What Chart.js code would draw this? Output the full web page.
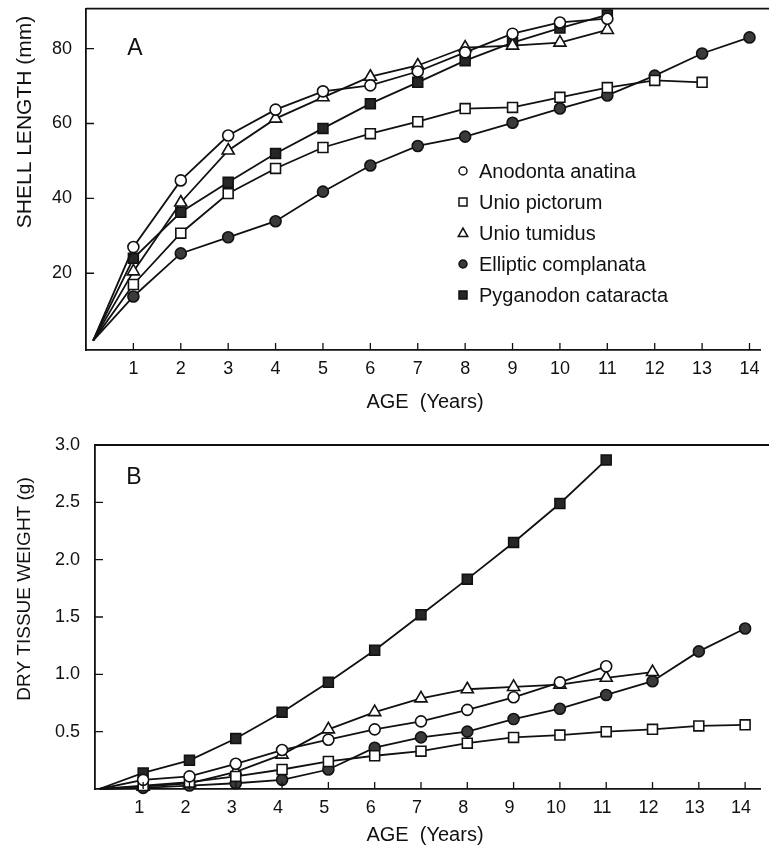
<!DOCTYPE html>
<html><head><meta charset="utf-8">
<script src="https://cdn.jsdelivr.net/npm/chart.js@4.4.1/dist/chart.umd.min.js"></script>
<style>
html,body{margin:0;padding:0;background:#fff;overflow:hidden}
#wa{position:absolute;left:0;top:0;width:769px;height:420px}
#wb{position:absolute;left:0;top:420px;width:769px;height:427px}
</style></head><body>
<div id="wa"><canvas id="ca" width="769" height="420"></canvas></div>
<div id="wb"><canvas id="cb" width="769" height="427"></canvas></div>
<script>
// ---------- data ----------
const seriesNames = ['Anodonta anatina','Unio pictorum','Unio tumidus','Elliptic complanata','Pyganodon cataracta'];
const agesA = [0.15,1,2,3,4,5,6,7,8,9,10,11,12,13,14];
const agesB = [0.05,1,2,3,4,5,6,7,8,9,10,11,12,13,14];
const xTicks = [1,2,3,4,5,6,7,8,9,10,11,12,13,14];
const yTicksA = [20,40,60,80];
const yTicksB = [0.5,1.0,1.5,2.0,2.5,3.0];

// Panel A: shell length (mm)
const anodontaLength   = [2,27,44.8,56.8,63.7,68.6,70.2,73.9,79,84,87,88];
const pictorumLength   = [2,17,30.7,41.3,48,53.6,57.3,60.5,64,64.3,67,69.6,71.5,71];
const tumidusLength    = [2,20.5,38.9,52.8,61.3,67,72.5,75.5,80.3,80.8,81.6,85];
const complanataLength = [2,13.8,25.3,29.6,33.9,41.8,48.8,54,56.5,60.2,64,67.5,72.8,78.7,83];
const cataractaLength  = [2,24,36.3,44.3,52,58.7,65.3,71,76.8,81.6,85.5,89];

// Panel B: dry tissue weight (g)
const anodontaWeight   = [0,0.08,0.11,0.22,0.34,0.43,0.52,0.59,0.69,0.80,0.93,1.07];
const pictorumWeight   = [0,0.03,0.06,0.11,0.17,0.24,0.29,0.33,0.40,0.45,0.47,0.50,0.52,0.55,0.56];
const tumidusWeight    = [0,0.02,0.05,0.15,0.30,0.52,0.67,0.79,0.87,0.89,0.91,0.97,1.02];
const complanataWeight = [0,0.01,0.03,0.05,0.08,0.17,0.36,0.45,0.50,0.61,0.70,0.82,0.94,1.20,1.40];
const cataractaWeight  = [0,0.14,0.25,0.44,0.67,0.93,1.21,1.52,1.83,2.15,2.49,2.87];

// ---------- styling ----------
const FONT = '"Liberation Sans", Arial, Helvetica, sans-serif';
const INK = '#111';
const markerStyles = [
  {style:'circle',   fill:'#ffffff', r:5.5},
  {style:'rect',     fill:'#ffffff', r:7},
  {style:'triangle', fill:'#ffffff', r:7},
  {style:'circle',   fill:'#3a3a3a', r:5.5},
  {style:'rect',     fill:'#262626', r:7}
];

function makeSets(ages, seriesValues){
  return seriesValues.map((vals,i)=>{
    const m = markerStyles[i];
    return {
      label: seriesNames[i],
      data: vals.map((v,j)=>({x:ages[j], y:v})),
      borderColor: INK,
      borderWidth: 1.8,
      tension: 0,
      pointStyle: m.style,
      pointBackgroundColor: m.fill,
      pointBorderColor: INK,
      pointBorderWidth: 1.6,
      pointRadius: c => c.dataIndex === 0 ? 0 : m.r,
      pointHoverRadius: c => c.dataIndex === 0 ? 0 : m.r,
      clip: 10
    };
  });
}

function drawMarker(ctx, style, fill, x, y, r){
  ctx.save();
  ctx.fillStyle = fill; ctx.strokeStyle = INK; ctx.lineWidth = 1.5;
  ctx.beginPath();
  if (style==='circle'){ ctx.arc(x,y,r,0,Math.PI*2); }
  else if (style==='rect'){ ctx.rect(x-r,y-r,2*r,2*r); }
  else { ctx.moveTo(x,y-r*1.1); ctx.lineTo(x+r*1.05,y+r*0.8); ctx.lineTo(x-r*1.05,y+r*0.8); ctx.closePath(); }
  ctx.fill(); ctx.stroke();
  ctx.restore();
}

const decor = {
  id:'decor',
  afterDraw(chart, args, o){
    const {ctx, chartArea:a} = chart;
    const xs = chart.scales.x, ys = chart.scales.y;
    ctx.save();
    ctx.strokeStyle = INK;
    ctx.lineWidth = 1.8;
    ctx.beginPath(); ctx.moveTo(a.left, a.top); ctx.lineTo(chart.width, a.top); ctx.stroke();
    ctx.lineWidth = 1.3;
    ctx.beginPath();
    xs.ticks.forEach(t=>{ const px = xs.getPixelForValue(t.value); ctx.moveTo(px,a.bottom); ctx.lineTo(px,a.bottom-7); });
    ys.ticks.forEach(t=>{ const py = ys.getPixelForValue(t.value); ctx.moveTo(a.left,py); ctx.lineTo(a.left+8,py); });
    ctx.stroke();
    ctx.fillStyle = INK;
    ctx.textAlign = 'center'; ctx.textBaseline = 'middle';
    ctx.font = '23px ' + FONT;
    ctx.fillText(o.panel, o.panelX, o.panelY);
    ctx.font = '20px ' + FONT;
    ctx.fillText(o.xTitle, o.xTitleX, o.xTitleY);
    ctx.font = o.yTitleSize + 'px ' + FONT;
    ctx.save(); ctx.translate(o.yTitleX, o.yTitleY); ctx.rotate(-Math.PI/2);
    ctx.fillText(o.yTitle, 0, 0); ctx.restore();
    if (o.legend){
      ctx.font = '20px ' + FONT;
      ctx.textAlign = 'left';
      chart.data.datasets.forEach((ds,i)=>{
        const y = o.legendY + i*o.legendDY;
        const m = markerStyles[i];
        drawMarker(ctx, m.style, m.fill, o.legendX, y, m.style==='triangle'?4.5:4);
        ctx.fillText(ds.label, o.legendX + 16, y + 1);
      });
    }
    ctx.restore();
  }
};

function makeChart(id, ages, seriesValues, cfg){
  return new Chart(document.getElementById(id), {
    type:'line',
    data:{ datasets: makeSets(ages, seriesValues) },
    options:{
      responsive:false, animation:false, devicePixelRatio:1,
      layout:{ padding:{ top:cfg.padTop, right:0, left:0, bottom:0 } },
      plugins:{ legend:{display:false}, tooltip:{enabled:false}, decor: cfg.decor },
      scales:{
        x:{
          type:'linear', min:cfg.xMin, max:cfg.xMax,
          grid:{display:false, drawTicks:false},
          border:{display:true, color:INK, width:1.8},
          ticks:{ color:INK, font:{family:FONT, size:18}, padding:8, maxRotation:0, autoSkip:false,
                  labelOffset: cfg.xLabelOffset },
          afterBuildTicks: s => { s.ticks = xTicks.map(v=>({value:v})); },
          afterFit: s => { s.height = cfg.xAxisH; s.paddingLeft = 0; s.paddingRight = 0; }
        },
        y:{
          type:'linear', min:cfg.yMin, max:cfg.yMax,
          grid:{display:false, drawTicks:false},
          border:{display:true, color:INK, width:1.8},
          ticks:{ color:INK, font:{family:FONT, size:18}, padding:cfg.yPad,
                  callback: cfg.yFmt },
          afterBuildTicks: s => { s.ticks = cfg.yTicks.map(v=>({value:v})); },
          afterFit: s => { s.width = cfg.yAxisW; s.paddingTop = 0; s.paddingBottom = 0; }
        }
      }
    },
    plugins:[decor]
  });
}

makeChart('ca', agesA,
  [anodontaLength, pictorumLength, tumidusLength, complanataLength, cataractaLength],
  { padTop:8, xMin:0, xMax:14.23, yMin:-0.5, yMax:90.7, xAxisH:70, yAxisW:86, yPad:14, xLabelOffset:0,
    yTicks:yTicksA, yFmt: v => String(v),
    decor:{ panel:'A', panelX:135, panelY:49, xTitle:'AGE  (Years)', xTitleX:425, xTitleY:402,
            yTitle:'SHELL LENGTH (mm)', yTitleSize:21, yTitleX:25, yTitleY:122,
            legend:true, legendX:463, legendY:171, legendDY:31 } });

makeChart('cb', agesB,
  [anodontaWeight, pictorumWeight, tumidusWeight, complanataWeight, cataractaWeight],
  { padTop:25, xMin:-0.04, xMax:14.33, yMin:0, yMax:3.0, xAxisH:58, yAxisW:95, yPad:15, xLabelOffset:-4,
    yTicks:yTicksB, yFmt: v => Number(v).toFixed(1),
    decor:{ panel:'B', panelX:134, panelY:58, xTitle:'AGE  (Years)', xTitleX:425, xTitleY:415,
            yTitle:'DRY TISSUE WEIGHT (g)', yTitleSize:19, yTitleX:25, yTitleY:169,
            legend:false } });
</script>
</body></html>
